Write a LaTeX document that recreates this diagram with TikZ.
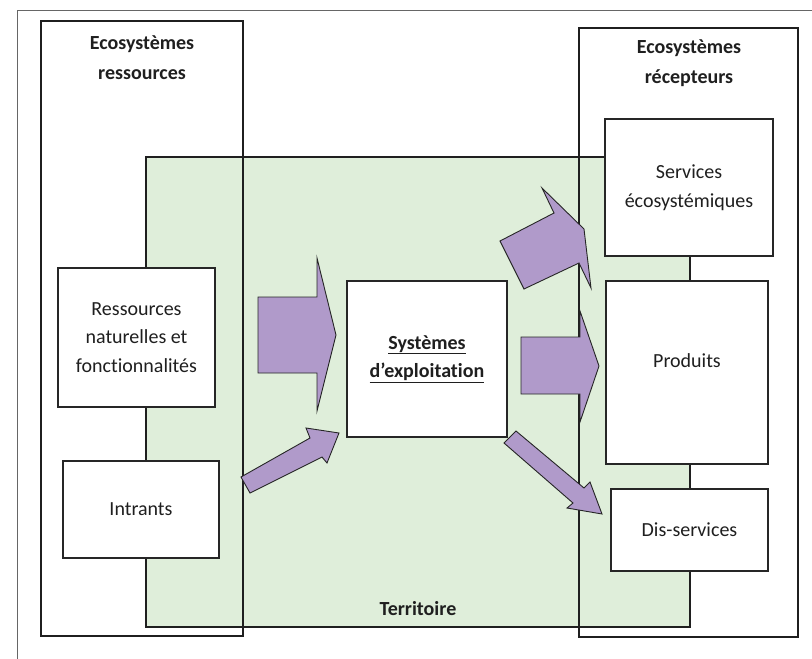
\documentclass[tikz,border=0pt]{standalone}
\usepackage{fontspec}
\setmainfont{Carlito}[Ligatures=NoCommon]
\usetikzlibrary{positioning}
\definecolor{terrgreen}{HTML}{DFEEDA}
\definecolor{flowpurple}{HTML}{B09ACA}

\begin{document}
\begin{tikzpicture}[%
    x=1pt, y=-1pt,
    font=\fontsize{20}{28.5}\selectfont,
    text=black!88,
    frame/.style={draw=black!88, line width=2pt, inner sep=0pt},
    box/.style={draw=black!85, fill=white, line width=1.2pt, align=center, inner sep=2pt},
    title/.style={font=\fontsize{20}{30}\selectfont\bfseries, align=center},
    flow/.style={draw=black!85, fill=flowpurple, line width=0.9pt, line join=miter}
  ]
    \useasboundingbox (0,0) rectangle (812,659);
    \draw[black!60, line width=0.8pt] (17,10) rectangle (830,680);

    \node[frame, fill=terrgreen, minimum width=544pt, minimum height=470pt] (territoire) at (418,392) {};
    \node[frame, minimum width=202pt, minimum height=615pt] (ressources) at (142,328.5) {};
    \node[frame, minimum width=219pt, minimum height=609pt] (recepteurs) at (688.5,332.5) {};

    \node[title] (titreres) at (142,58) {Ecosystèmes\\ressources};
    \node[title] (titrerec) at (689,63) {Ecosystèmes\\récepteurs};
    \node[title] (titreterr) at (418,609) {Territoire};

    \node[box, minimum width=157pt, minimum height=139pt] (resnat) at (136.5,337.5) {Ressources\\naturelles et\\fonctionnalités};
    \node[box, minimum width=156pt, minimum height=97pt] (intrants) at (141,509.5) {Intrants};
    \node[box, minimum width=160pt, minimum height=156pt] (systemes) at (427,359)
      {\textbf{\underline{Systèmes}}\\\textbf{\underline{d’exploitation}}};
    \node[box, minimum width=168pt, minimum height=137pt] (services) at (689,187.5) {Services\\écosystémiques};
    \node[box, minimum width=162pt, minimum height=183pt, text depth=24pt] (produits) at (687,372.5) {Produits};
    \node[box, minimum width=157pt, minimum height=82pt] (disservices) at (689.5,530) {Dis-services};

    \draw[flow] (258,297) -- (317,297) -- (317,258) -- (336,335) -- (317,411) -- (317,373) -- (258,373) -- cycle;
    \draw[flow] (241,477) -- (310,438) -- (306,428) -- (339,433) -- (327,463) -- (322,457) -- (250,493) -- cycle;
    \draw[flow] (500,241) -- (554,213) -- (542,188) -- (584,229) -- (591,288) -- (579,263) -- (524,289) -- cycle;
    \draw[flow] (521,337) -- (580,337) -- (580,311) -- (599,366) -- (580,422) -- (580,394) -- (521,394) -- cycle;
    \draw[flow] (516,431) -- (584,488) -- (590,482) -- (602,514) -- (567,508) -- (573,503) -- (504,443) -- cycle;
  \end{tikzpicture}
\end{document}
